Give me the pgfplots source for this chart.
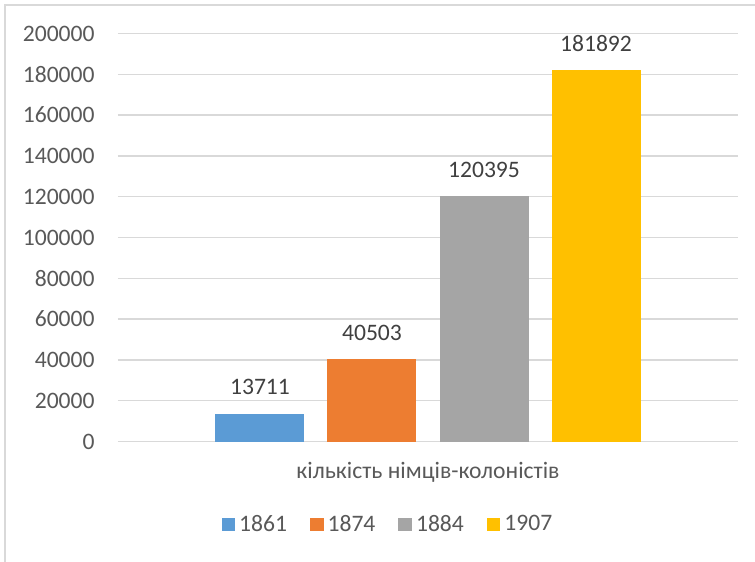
\documentclass[border=0pt]{standalone}
\usepackage{pgfplots}
\pgfplotsset{compat=1.18}
\usepackage{fontspec}
\setmainfont{Carlito}
\definecolor{c1}{HTML}{5B9BD5}
\definecolor{c2}{HTML}{ED7D31}
\definecolor{c3}{HTML}{A5A5A5}
\definecolor{c4}{HTML}{FFC000}
\definecolor{txt}{HTML}{595959}
\definecolor{lbl}{HTML}{404040}
\definecolor{grd}{HTML}{D9D9D9}
\begin{document}
\begin{tikzpicture}
\useasboundingbox (0,0) rectangle (377.5pt,281pt);
\draw[grd, line width=0.7pt] (2.5pt,0) -- (2.5pt,278.5pt) -- (377.5pt,278.5pt);
\begin{axis}[
  at={(59pt,60.25pt)}, anchor=south west,
  scale only axis, width=310pt, height=204pt,
  ybar=11.5pt, bar width=44.5pt,
  xmin=-1, xmax=1, ymin=0, ymax=200000,
  xtick={0}, xticklabels={кількість німців-колоністів},
  ytick={0,20000,...,200000},
  scaled y ticks=false,
  /pgf/number format/assume math mode=true,
  yticklabel={\pgfmathprintnumber[fixed,precision=0,set thousands separator={}]{\tick}},
  major tick length=0pt,
  axis line style={draw=none},
  ymajorgrids, grid style={grd, line width=0.75pt},
  font=\fontsize{11.8}{14}\selectfont,
  tick label style={text=txt},
  yticklabel style={anchor=east, inner sep=0pt, xshift=-11.5pt},
  xticklabel style={anchor=center, inner sep=0pt, yshift=-15.5pt},
  nodes near coords,
  nodes near coords style={anchor=south, inner sep=0pt, yshift=9pt, text=lbl,
    /pgf/number format/.cd, fixed, precision=0, set thousands separator={}},
  legend style={at={(0.437,-0.2034)}, anchor=center, draw=none, legend columns=-1,
    font=\fontsize{11.8}{14}\selectfont, text=txt,
    /tikz/every even column/.append style={column sep=9.5pt}},
  legend image code/.code={\fill[#1] (0pt,-3.4pt) rectangle (6.8pt,3.4pt);},
]
\addplot[fill=c1, draw=none] coordinates {(0,13711)};
\addplot[fill=c2, draw=none] coordinates {(0,40503)};
\addplot[fill=c3, draw=none] coordinates {(0,120395)};
\addplot[fill=c4, draw=none] coordinates {(0,181892)};
\legend{1861,1874,1884,1907}
\end{axis}
\end{tikzpicture}
\end{document}
